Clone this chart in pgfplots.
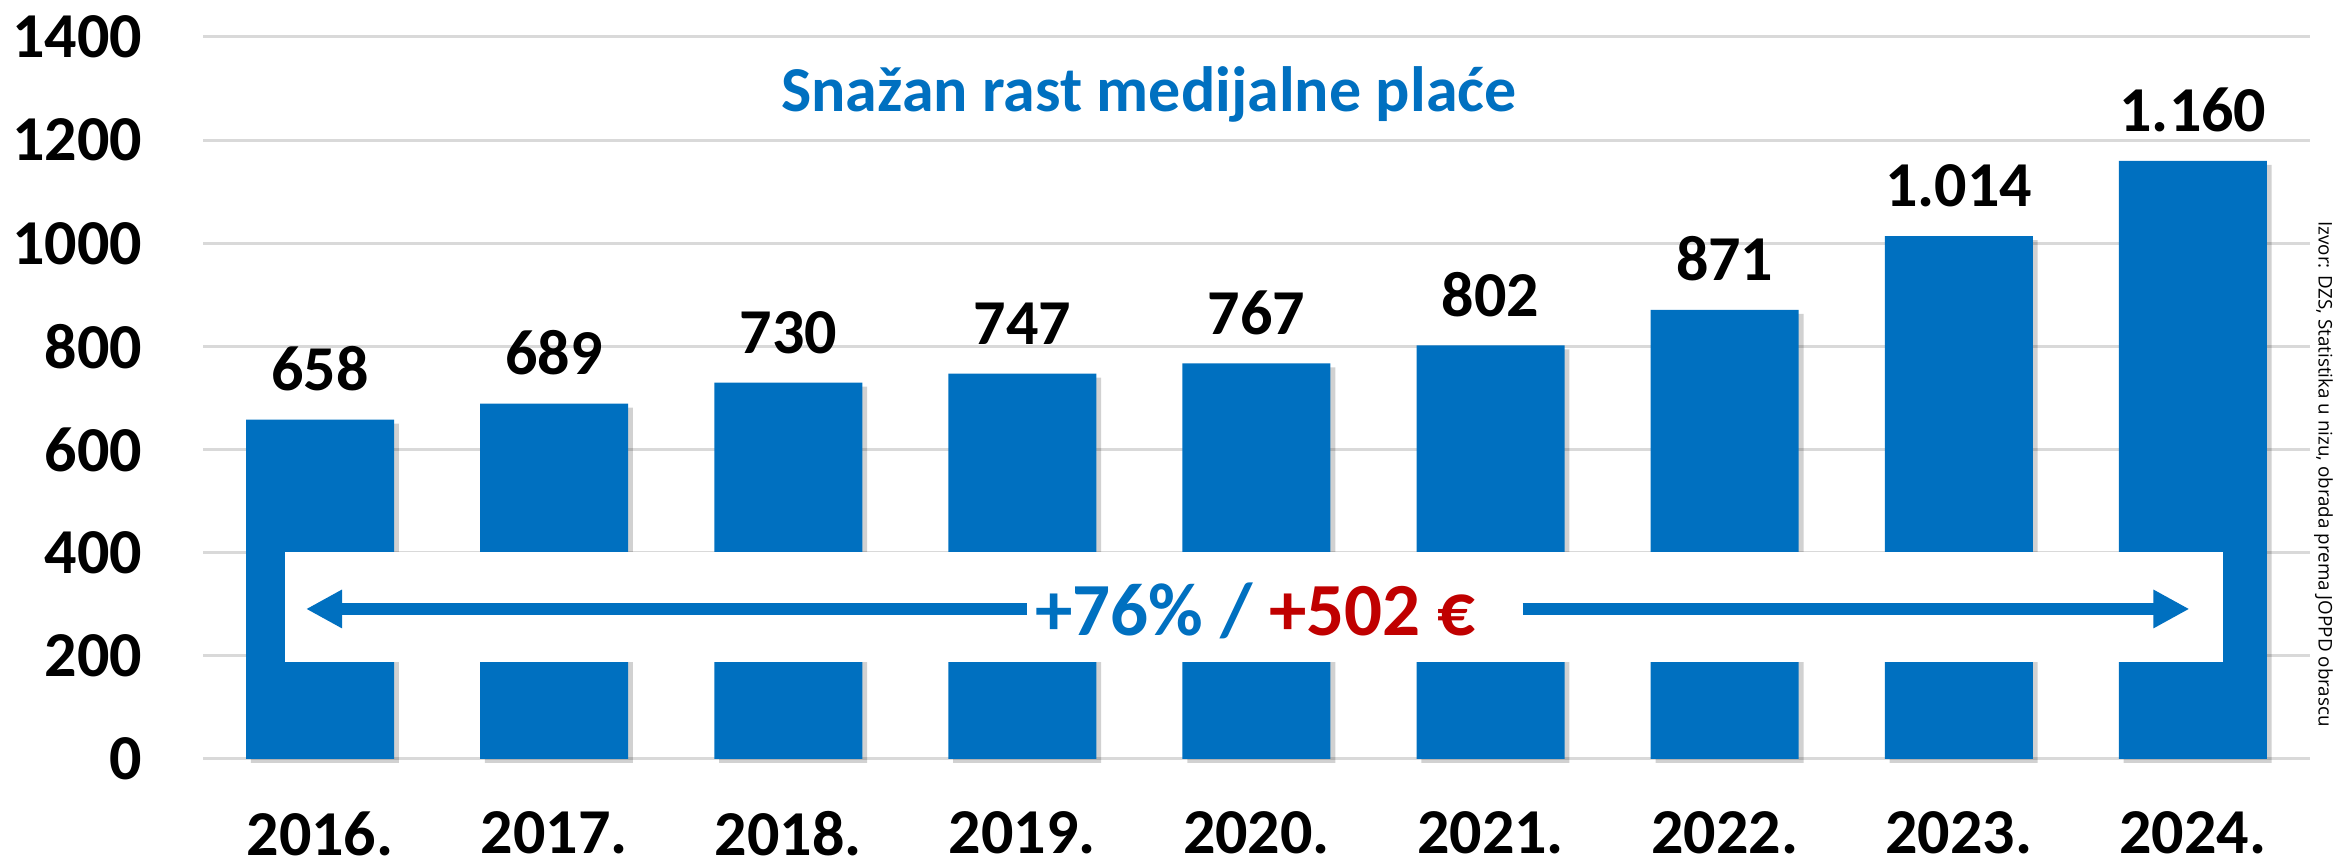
\documentclass[border=0pt]{standalone}
\usepackage{pgfplots}
\pgfplotsset{compat=1.18}
\usepackage{pgfplotstable}
\usepackage{fontspec}
\setmainfont{Carlito}
\newfontfamily\srcfont{Open Sans}
\usetikzlibrary{arrows.meta}
\definecolor{barblue}{HTML}{0070C0}
\definecolor{darkred}{HTML}{C00000}
\definecolor{gridgray}{HTML}{D9D9D9}
\pgfplotstableread{
x y lab
0 658 658
1 689 689
2 730 730
3 747 747
4 767 767
5 802 802
6 871 871
7 1014 1.014
8 1160 1.160
}\data
\begin{document}
\begin{tikzpicture}
\begin{axis}[
  at={(50.75pt,26pt)}, anchor=south west,
  scale only axis, width=526.75pt, height=180.5pt,
  xmin=-0.5, xmax=8.5, ymin=0, ymax=1400,
  enlargelimits=false,
  ybar, bar width=37pt,
  xtick={0,1,2,3,4,5,6,7,8},
  xticklabels={2016.,2017.,2018.,2019.,2020.,2021.,2022.,2023.,2024.},
  ytick={0,200,400,600,800,1000,1200,1400},
  ymajorgrids, grid style={draw=gridgray, line width=0.75pt},
  axis line style={draw=none}, major tick length=0pt,
  tick label style={font=\fontsize{16pt}{19pt}\selectfont\bfseries},
  /pgf/number format/assume math mode=true,
  /pgf/number format/1000 sep={},
  yticklabel style={anchor=east, inner sep=0pt, xshift=-15pt},
  xticklabel style={anchor=north, inner sep=0pt, yshift=-13pt},
  clip=false,
]
\addplot[fill=black, fill opacity=0.18, draw=none, bar shift=1.2pt, yshift=-1pt, forget plot] table[x=x,y=y]{\data};
\addplot[fill=barblue, draw=none, bar shift=0pt,
  nodes near coords, point meta=explicit symbolic,
  nodes near coords style={font=\fontsize{16pt}{19pt}\selectfont\bfseries, text=black, anchor=south, inner sep=0pt, yshift=7pt}]
  table[x=x,y=y,meta=lab]{\data};
\fill[white] (axis cs:-0.149,188.1) rectangle (axis cs:8.13,401.4);
\draw[barblue, line width=3pt, -{Triangle[length=9pt,width=9pt]}] (axis cs:3.019,290.9) -- (axis cs:-0.060,290.9);
\draw[barblue, line width=3pt, -{Triangle[length=9pt,width=9pt]}] (axis cs:5.137,290.9) -- (axis cs:7.985,290.9);
\node[anchor=base, inner sep=0pt, font=\fontsize{18.75pt}{22pt}\selectfont\bfseries] at (axis cs:3.995,240.4) {\textcolor{barblue}{+76\% /} \textcolor{darkred}{+502 €}};
\node[anchor=base, inner sep=0pt, font=\fontsize{16pt}{19pt}\selectfont\bfseries, text=barblue] at (axis cs:3.54,1254.6) {Snažan rast medijalne plaće};
\node[rotate=-90, anchor=base, inner sep=0pt, font=\srcfont\fontsize{4.7pt}{5.6pt}\selectfont] at (axis cs:8.537,552.6) {Izvor: DZS, Statistika u nizu, obrada prema JOPPD obrascu};
\end{axis}
\pgfresetboundingbox
\useasboundingbox (0,0) rectangle (583.25pt,215.75pt);
\end{tikzpicture}
\end{document}
